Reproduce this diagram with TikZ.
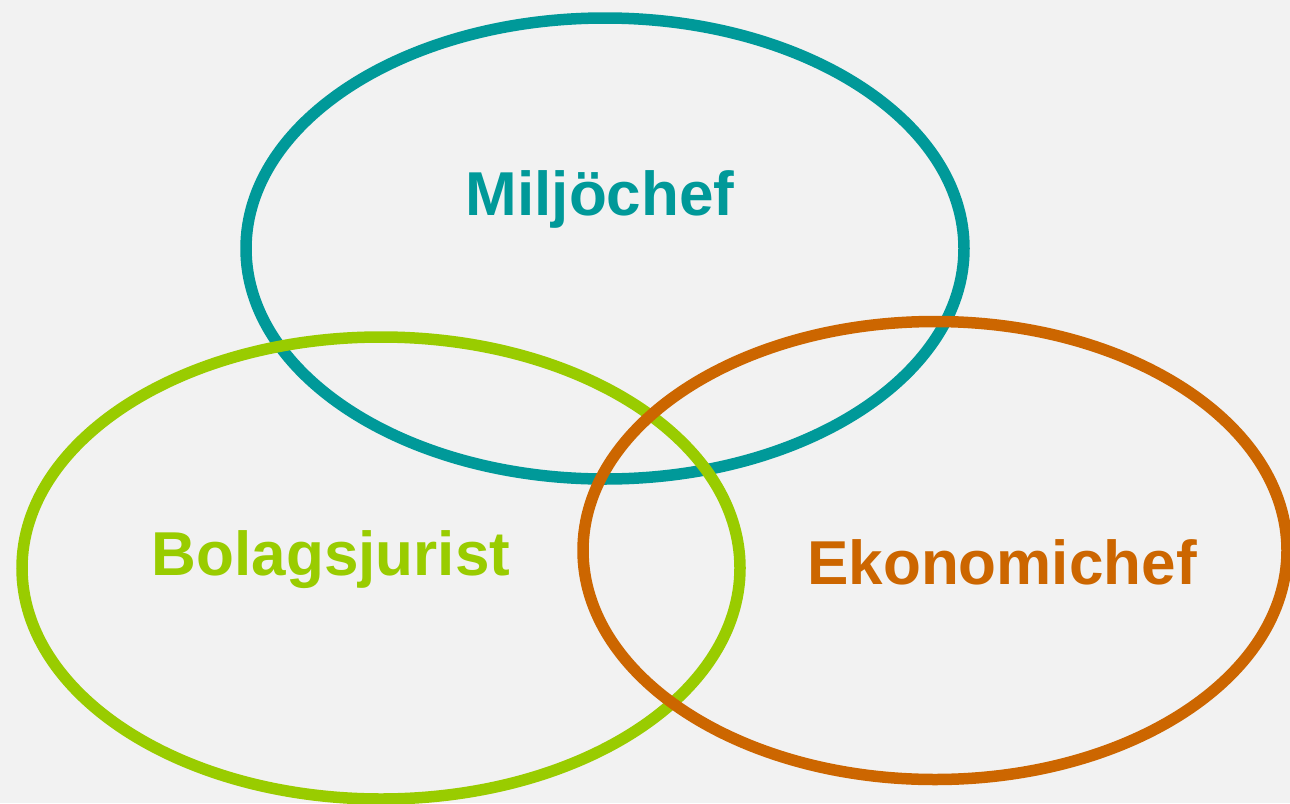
\documentclass[tikz,border=0pt]{standalone}
\usepackage{fontspec}
\setmainfont{Liberation Sans}
\definecolor{bg}{HTML}{F2F2F2}
\definecolor{teal}{HTML}{009999}
\definecolor{lime}{HTML}{99CC00}
\definecolor{rust}{HTML}{CC6600}
\begin{document}
\begin{tikzpicture}[x=1pt,y=-1pt,
  ring/.style={line width=11.5pt},
  lbl/.style={font=\fontsize{62}{62}\selectfont\bfseries, anchor=base, inner sep=0pt}]
\fill[bg] (0,0) rectangle (1290,803);
\useasboundingbox (0,0) rectangle (1290,803);
\begin{scope}
\clip (0,0) rectangle (1290,803);
\draw[ring, teal] (605,248.5) ellipse [x radius=359, y radius=230.5];
\draw[ring, lime] (381,568) ellipse [x radius=359, y radius=231];
\draw[ring, rust] (935,550.5) ellipse [x radius=352, y radius=229];
\end{scope}
\node[lbl, text=teal] (m) at (600,215) {Miljöchef};
\node[lbl, text=lime] (b) at (331,575) {Bolagsjurist};
\node[lbl, text=rust] (e) at (1002,584) {Ekonomichef};
\end{tikzpicture}
\end{document}
